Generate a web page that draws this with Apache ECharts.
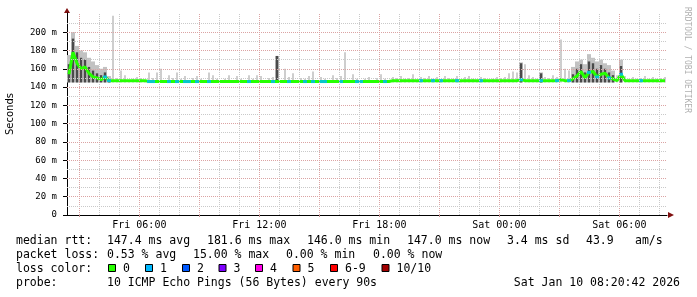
<!DOCTYPE html>
<html><head><meta charset="utf-8">
<script src="https://cdn.jsdelivr.net/npm/echarts@6/dist/echarts.min.js"></script>
<style>html,body{margin:0;padding:0;background:#fff}#c{width:697px;height:297px}</style>
</head><body><div id="c"></div>
<script>
// ---- axis ranges / labels (hours since Fri 00:00) ----
const X_START = 2.3833;   // Fri 02:23
const X_END = 32.3833;    // Sat 08:23
const SAMPLE_STEP = 0.2;  // 12 min per sample
const X_LABEL_HOURS = [6, 12, 18, 24, 30];
const X_LABELS = ['Fri 06:00', 'Fri 12:00', 'Fri 18:00', 'Sat 00:00', 'Sat 06:00'];
const Y_MAX = 221;
const Y_TICKS = [0, 20, 40, 60, 80, 100, 120, 140, 160, 180, 200];
const Y_LABELS = ['0', '20 m', '40 m', '60 m', '80 m', '100 m', '120 m', '140 m', '160 m', '180 m', '200 m'];

// ---- median rtt (ms) per sample ----
const median = [
  154,178,166,160,162,155,151,150,148,151,
  147,147,147,147,147,147,147,147,147,147,
  146,146,146,146,146,146,146,146,146,146,
  146,146,146,146,146,146,146,146,146,146,
  146,146,146,146,146,146,146,146,146,146,
  146,146,146,146,146,146,146,146,146,146,
  146,146,146,146,146,146,146,146,146,146,
  146,146,146,146,146,146,146,146,146,146,
  146,147,147,147,147,147,147,147,147,147,
  147,147,147,147,147,147,147,147,147,147,
  147,147,147,147,147,147,147,147,147,147,
  147,147,147,148,147,147,147,147,147,147,
  147,147,147,148,147,147,149,152,157,150,
  156,157,151,154,155,150,149,147,154,147,
  147,147,147,147,147,147,147,147,147,147
];
// ---- smoke: highest ping per sample (ms) ----
const smokeMax = [
  175,200,185,180,178,172,168,164,160,162,
  152,218,150,158,153,147,149,151,150,147,
  156,150,156,160,147,153,150,156,149,152,
  147,150,152,149,147,156,153,149,147,149,
  153,147,152,149,147,153,149,153,152,147,
  150,151,174,147,160,151,155,147,150,149,
  152,157,147,151,149,147,153,150,152,178,
  147,154,149,147,149,151,147,150,154,149,
  147,151,150,152,149,150,154,147,151,150,
  152,149,151,147,152,150,149,152,147,151,
  152,149,147,151,150,147,149,151,150,151,
  155,157,156,167,165,153,151,149,156,151,
  150,153,151,192,160,158,162,168,170,165,
  176,172,168,170,166,164,158,153,170,152,
  149,151,149,150,152,149,151,149,150,151
];
// ---- smoke: dense (dark) band top per sample (ms), null = none ----
const smokeDark = [
  165,193,178,172,170,162,158,155,153,156,
  148,null,null,null,null,null,null,null,null,null,
  null,null,null,null,null,null,null,null,null,null,
  null,null,null,null,null,null,null,null,null,null,
  null,null,null,null,null,null,null,null,null,null,
  null,null,174,null,null,null,null,null,null,null,
  null,null,null,null,null,null,null,null,null,null,
  null,null,null,null,null,null,null,null,null,null,
  null,null,null,null,null,null,null,null,null,null,
  null,null,null,null,null,null,null,null,null,null,
  null,null,null,null,null,null,null,null,null,null,
  null,null,null,166,null,null,null,null,155,null,
  null,null,null,null,null,null,154,160,165,156,
  168,166,160,164,160,156,153,null,163,null,
  null,null,null,null,null,null,null,null,null,null
];
const SMOKE_FLOOR = 145;
// ---- lost pings (out of 10) per sample ----
const loss = [
  0,0,0,0,0,0,0,0,0,1,
  1,0,0,0,0,0,0,0,0,0,
  1,1,0,0,0,1,0,1,0,1,
  1,0,1,0,0,1,0,0,0,0,
  0,0,0,0,0,1,0,0,0,0,
  0,1,0,0,0,1,0,0,0,1,
  0,1,0,1,1,0,0,0,1,0,
  0,0,1,1,0,0,0,0,0,1,
  0,0,0,0,0,0,0,0,1,0,
  0,1,0,1,0,0,0,1,0,0,
  0,0,0,1,0,0,0,0,0,0,
  0,0,0,1,0,0,0,0,1,0,
  0,0,1,0,0,1,0,0,0,0,
  1,0,1,0,0,1,0,0,1,0,
  0,0,0,1,0,0,0,0,0,0
];
const LOSS_LABELS = ['0', '1', '2', '3', '4', '5', '6-9', '10/10'];
const LOSS_COLORS = ['#26ff00', '#00b8ff', '#0059ff', '#7e00ff', '#ff00ea', '#ff5e00', '#ff0000', '#a10000'];

// ---- text lines ----
const STATS_RTT = [['median rtt:', 16], ['147.4 ms avg', 107], ['181.6 ms max', 207], ['146.0 ms min', 307], ['147.0 ms now', 407], ['3.4 ms sd', 507], ['43.9', 586], ['am/s', 635]];
const STATS_LOSS = [['packet loss:', 16], ['0.53 % avg', 107], ['15.00 % max', 193], ['0.00 % min', 286], ['0.00 % now', 373]];
const PROBE = '10 ICMP Echo Pings (56 Bytes) every 90s';
const DATE = 'Sat Jan 10 08:20:42 2026';

function lossColor(n) {
  if (n <= 5) return LOSS_COLORS[n];
  if (n < 10) return LOSS_COLORS[6];
  return LOSS_COLORS[7];
}

const xs = median.map((_, i) => X_START + SAMPLE_STEP * (i + 0.5));

// grid lines (dotted) as mark lines
const gridLines = [];
for (let h = 3; h <= 32; h++) {
  gridLines.push({ xAxis: h, lineStyle: { color: h % 3 === 0 ? '#dba3a3' : '#c9c9c9', type: [1, 1], width: 1 } });
}
for (let v = 10; v <= 210; v += 10) {
  gridLines.push({ yAxis: v, lineStyle: { color: v % 20 === 0 ? '#dba3a3' : '#c9c9c9', type: [1, 1], width: 1 } });
}

const mono = 'DejaVu Sans Mono';
const chart = echarts.init(document.getElementById('c'), null, { renderer: 'canvas' });

const graphics = [];
const FONT = '11.5px "DejaVu Sans Mono"';
const line = (items, y) => items.forEach(([t, x]) => graphics.push({
  type: 'text', x: x, y: y, silent: true,
  style: { text: t, font: FONT, fill: '#000', verticalAlign: 'middle', align: 'left' }
}));
line(STATS_RTT, 241);
line(STATS_LOSS, 255.5);
line([['loss color:', 16]], 269);
line([['probe:', 16], [PROBE, 107]], 283.5);
graphics.push({ type: 'text', x: 680, y: 283.5, silent: true,
  style: { text: DATE, font: FONT, fill: '#000', verticalAlign: 'middle', align: 'right' } });
const SQ_X = [108, 145, 182, 218.5, 255, 292.5, 330, 381.5];
LOSS_LABELS.forEach((lab, k) => {
  graphics.push({ type: 'rect', silent: true, shape: { x: SQ_X[k] + 0.5, y: 264.5, width: 7, height: 7 },
    style: { fill: LOSS_COLORS[k], stroke: '#000', lineWidth: 1 } });
  graphics.push({ type: 'text', x: SQ_X[k] + 15, y: 269, silent: true,
    style: { text: lab, font: FONT, fill: '#000', verticalAlign: 'middle' } });
});
graphics.push({ type: 'text', x: 10, y: 114, rotation: Math.PI / 2, silent: true,
  style: { text: 'Seconds', font: '10px "DejaVu Sans"', fill: '#000', align: 'center', verticalAlign: 'middle' } });
graphics.push({ type: 'text', x: 687.5, y: 60, rotation: -Math.PI / 2, silent: true,
  style: { text: 'RRDTOOL / TOBI OETIKER', font: '8px "DejaVu Sans Mono"', fill: '#b0b0b0', align: 'center', verticalAlign: 'middle' } });
graphics.push({ type: 'polygon', silent: true, shape: { points: [[64, 13], [70, 13], [67, 8]] }, style: { fill: '#801010' } });
graphics.push({ type: 'polygon', silent: true, shape: { points: [[668, 212], [668, 218], [674, 215]] }, style: { fill: '#801010' } });

// smoke rectangles drawn through the axes' scales; dense samples fill their slot, isolated spikes are thin
function smokeRender(color, fracDense, fracSparse) {
  return function (params, api) {
    const x = api.value(0), lo = api.value(1), hi = api.value(2), dense = api.value(3);
    const frac = dense ? fracDense : fracSparse;
    const p1 = api.coord([x - SAMPLE_STEP * frac / 2, hi]);
    const p2 = api.coord([x + SAMPLE_STEP * frac / 2, lo]);
    return { type: 'rect', shape: { x: p1[0], y: p1[1], width: p2[0] - p1[0], height: p2[1] - p1[1] },
      style: { fill: color } };
  };
}
const lightData = xs.map((x, i) => [x, SMOKE_FLOOR, smokeMax[i], smokeDark[i] != null ? 1 : 0]);
const darkData = xs.map((x, i) => [x, SMOKE_FLOOR, smokeDark[i], 1]).filter(d => d[2] != null);

chart.setOption({
  animation: false,
  backgroundColor: '#fff',
  grid: { left: 67, right: 30, top: 13, bottom: 82 },
  xAxis: {
    type: 'value', min: X_START, max: X_END,
    axisLine: { lineStyle: { color: '#000', width: 1 } },
    splitLine: { show: false },
    axisTick: { customValues: [3, 6, 9, 12, 15, 18, 21, 24, 27, 30], length: 2, lineStyle: { color: '#c08e8e' } },
    axisLabel: {
      customValues: X_LABEL_HOURS, margin: 5,
      formatter: v => X_LABELS[X_LABEL_HOURS.indexOf(Math.round(v))],
      fontFamily: mono, fontSize: 10, color: '#000'
    }
  },
  yAxis: {
    type: 'value', min: 0, max: Y_MAX,
    axisLine: { show: true, lineStyle: { color: '#000', width: 1 } },
    splitLine: { show: false },
    axisTick: { show: true, customValues: Y_TICKS, length: 4, lineStyle: { color: '#000' } },
    axisLabel: {
      customValues: Y_TICKS, margin: 10,
      formatter: v => Y_LABELS[Y_TICKS.indexOf(Math.round(v))],
      fontFamily: mono, fontSize: 9, color: '#000'
    }
  },
  graphic: graphics,
  series: [
    { type: 'line', name: 'grid', z: 1, data: [], silent: true,
      markLine: { silent: true, symbol: ['none', 'none'], label: { show: false }, animation: false, data: gridLines } },
    { type: 'custom', z: 2, silent: true, renderItem: smokeRender('#c2c2c2', 1, 0.4),
      encode: { x: 0, y: [1, 2] }, data: lightData },
    { type: 'custom', z: 2, silent: true, renderItem: smokeRender('#4a4a4a', 0.6, 0.6),
      encode: { x: 0, y: [1, 2] }, data: darkData },
    { type: 'line', z: 3, silent: true, showSymbol: false, symbol: 'none',
      lineStyle: { color: LOSS_COLORS[0], width: 3 },
      data: xs.map((x, i) => [x, median[i]]) },
    { type: 'scatter', z: 4, silent: true, symbol: 'rect', symbolSize: [4, 3],
      itemStyle: { color: p => lossColor(p.data[2]) },
      data: xs.map((x, i) => [x, median[i], loss[i]]).filter(d => d[2] > 0) }
  ]
});
</script></body></html>
